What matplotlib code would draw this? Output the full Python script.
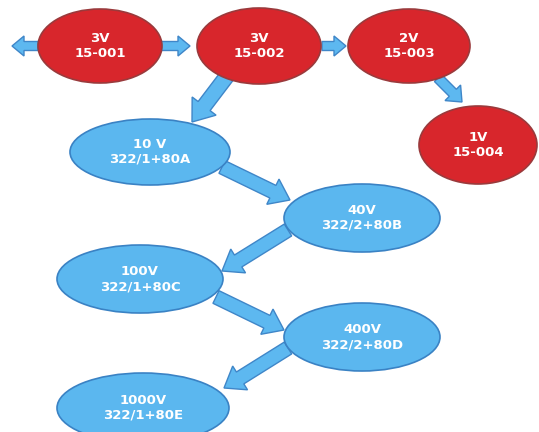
import matplotlib.pyplot as plt
from matplotlib.patches import Ellipse, FancyArrow

# Node labels
red_voltages = ["3V", "3V", "2V", "1V"]
red_codes = ["15-001", "15-002", "15-003", "15-004"]
blue_voltages = ["10 V", "40V", "100V", "400V", "1000V"]
blue_codes = ["322/1+80A", "322/2+80B", "322/1+80C", "322/2+80D", "322/1+80E"]

# Layout (pixel coordinates, y down)
red_pos = [(100, 46, 124, 74), (259, 46, 124, 76), (409, 46, 122, 74), (478, 145, 118, 78)]
blue_pos = [(150, 152, 160, 66), (362, 218, 156, 68), (140, 279, 166, 68),
            (362, 337, 156, 68), (143, 408, 172, 70)]

# arrows: (x0, y0, x1, y1, shaft width, head width, head length)
arrows = [
    (38, 46, 12, 46, 9, 20, 12),
    (160, 46, 190, 46, 9, 20, 12),
    (322, 46, 346, 46, 9, 20, 12),
    (438, 78, 462, 102, 10, 22, 13),
    (230, 72, 192, 122, 15, 30, 20),
    (222, 167, 290, 200, 14, 28, 19),
    (288, 230, 222, 271, 14, 28, 19),
    (216, 297, 284, 330, 14, 28, 19),
    (288, 348, 224, 388, 14, 28, 19),
]

RED = "#d8262c"
RED_EDGE = "#9a3a3c"
BLUE = "#5bb7ef"
BLUE_EDGE = "#3a82c4"
ARROW = "#5db8f0"
ARROW_EDGE = "#3f86c8"

fig = plt.figure(figsize=(5.39, 4.32), dpi=100)
ax = fig.add_axes([0, 0, 1, 1])
ax.set_xlim(0, 539)
ax.set_ylim(432, 0)
ax.axis("off")

for (x0, y0, x1, y1, w, hw, hl) in arrows:
    ax.add_patch(FancyArrow(x0, y0, x1 - x0, y1 - y0, width=w, head_width=hw,
                            head_length=hl, length_includes_head=True,
                            facecolor=ARROW, edgecolor=ARROW_EDGE, lw=1, zorder=1))

for (x, y, w, h), v, c in zip(red_pos, red_voltages, red_codes):
    ax.add_patch(Ellipse((x, y), w, h, facecolor=RED, edgecolor=RED_EDGE, lw=1.2, zorder=2))
    ax.text(x, y, v + "\n" + c, color="white", fontsize=9.5, fontweight="bold",
            ha="center", va="center", linespacing=1.2, zorder=3)

for (x, y, w, h), v, c in zip(blue_pos, blue_voltages, blue_codes):
    ax.add_patch(Ellipse((x, y), w, h, facecolor=BLUE, edgecolor=BLUE_EDGE, lw=1.2, zorder=2))
    ax.text(x, y, v + "\n" + c, color="white", fontsize=9.5, fontweight="bold",
            ha="center", va="center", linespacing=1.2, zorder=3)

fig.savefig("out.png", dpi=100)
